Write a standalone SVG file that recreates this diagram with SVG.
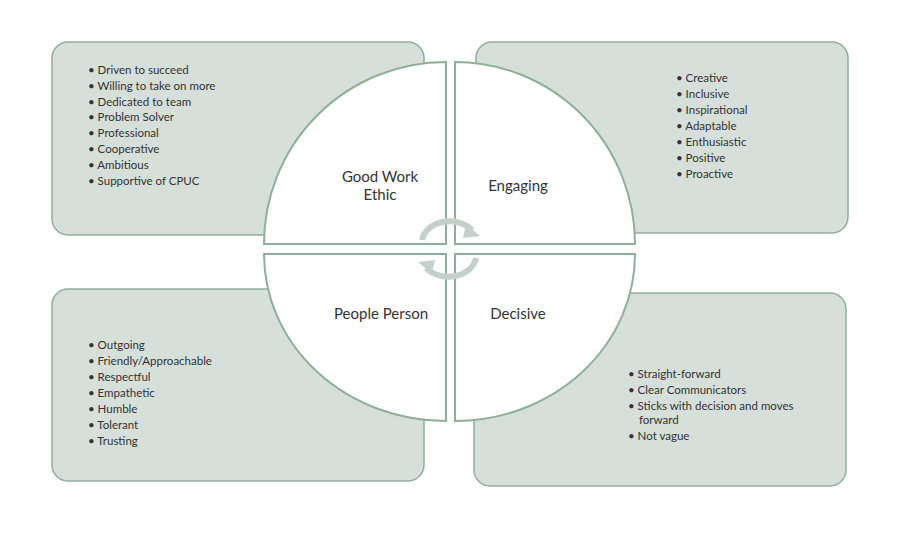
<svg xmlns="http://www.w3.org/2000/svg" width="900" height="543" viewBox="0 0 900 543">
<style>
.box{fill:#d7dfda;stroke:#8fae9c;stroke-width:1.5}
.q{fill:#fff;stroke:#8fae9c;stroke-width:2}
.t{font-family:"Lato","Liberation Sans",sans-serif;font-size:11.5px;fill:#333}
.l{font-family:"Lato","Liberation Sans",sans-serif;font-size:15px;fill:#333;text-anchor:middle}
.arr{fill:none;stroke:#c3d1ca;stroke-width:6}
</style>
<rect width="900" height="543" fill="#fff"/>
<g id="box-tl"><rect class="box" x="52" y="42" width="372" height="193" rx="16"/>
<text class="t" x="88" y="74">•  Driven to succeed</text><text class="t" x="88" y="90">•  Willing to take on more</text><text class="t" x="88" y="106">•  Dedicated to team</text><text class="t" x="88" y="121">•  Problem Solver</text><text class="t" x="88" y="137">•  Professional</text><text class="t" x="88" y="153">•  Cooperative</text><text class="t" x="88" y="169">•  Ambitious</text><text class="t" x="88" y="185">•  Supportive of CPUC</text></g>
<g id="box-tr"><rect class="box" x="476" y="42" width="372" height="191" rx="16"/>
<text class="t" x="676" y="82">•  Creative</text><text class="t" x="676" y="98">•  Inclusive</text><text class="t" x="676" y="114">•  Inspirational</text><text class="t" x="676" y="130">•  Adaptable</text><text class="t" x="676" y="146">•  Enthusiastic</text><text class="t" x="676" y="162">•  Positive</text><text class="t" x="676" y="178">•  Proactive</text></g>
<g id="box-bl"><rect class="box" x="52" y="289" width="372" height="192" rx="16"/>
<text class="t" x="88" y="349">•  Outgoing</text><text class="t" x="88" y="365">•  Friendly/Approachable</text><text class="t" x="88" y="381">•  Respectful</text><text class="t" x="88" y="397">•  Empathetic</text><text class="t" x="88" y="413">•  Humble</text><text class="t" x="88" y="429">•  Tolerant</text><text class="t" x="88" y="445">•  Trusting</text></g>
<g id="box-br"><rect class="box" x="474" y="293" width="372" height="193" rx="16"/>
<text class="t" x="628" y="378">•  Straight-forward</text><text class="t" x="628" y="394">•  Clear Communicators</text><text class="t" x="628" y="410">•  Sticks with decision and moves</text><text class="t" x="639" y="424">forward</text><text class="t" x="628" y="440">•  Not vague</text></g>
<g id="q-tl"><path class="q" d="M264,244 A182,182 0 0 1 446,62 L446,244 Z"/><text class="l" x="380" y="182">Good Work</text><text class="l" x="380" y="200">Ethic</text></g>
<g id="q-tr"><path class="q" d="M455,62 A180,182 0 0 1 635,244 L455,244 Z"/><text class="l" x="518" y="191">Engaging</text></g>
<g id="q-bl"><path class="q" d="M264,254 L446,254 L446,421 A182,167 0 0 1 264,254 Z"/><text class="l" x="381" y="319">People Person</text></g>
<g id="q-br"><path class="q" d="M455,254 L635,254 A180,167 0 0 1 455,421 Z"/><text class="l" x="518" y="319">Decisive</text></g>
<g id="connectors">
<path class="arr" d="M422,240 A28,22 0 0 1 472,230"/><path d="M466,224 L480,236 L463,238 Z" fill="#c3d1ca"/>
<path class="arr" d="M476,258 A28,22 0 0 1 426,268"/><path d="M432,274 L418,262 L435,260 Z" fill="#c3d1ca"/>
</g>
</svg>
